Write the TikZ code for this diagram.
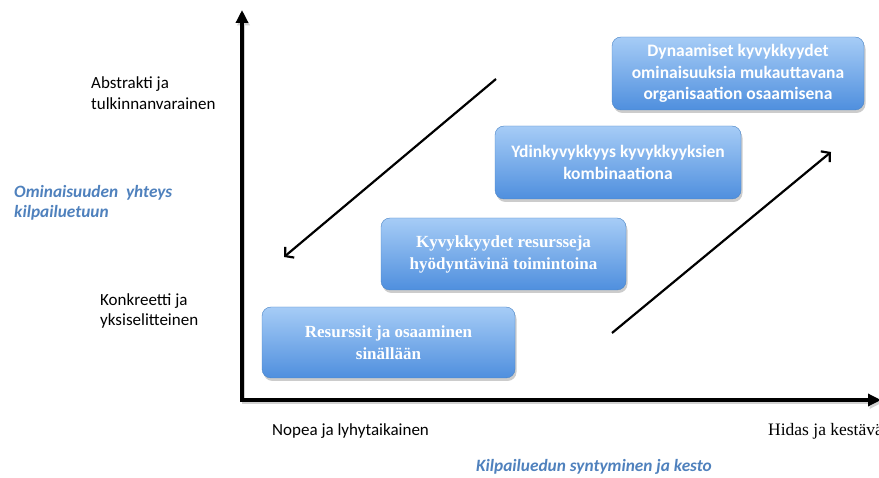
\documentclass[tikz,border=0pt]{standalone}
\usepackage{fontspec}
\setmainfont{Carlito}
\newfontfamily\timesfont{Liberation Serif}
\usetikzlibrary{arrows.meta,shadows}
\definecolor{labelblue}{HTML}{4F81BD}
\definecolor{boxtop}{HTML}{A6CCF6}
\definecolor{boxbottom}{HTML}{4F8FDE}
\definecolor{boxline}{HTML}{4A84C6}

\begin{document}
\begin{tikzpicture}[x=1pt, y=-1pt,
      capbox/.style={rectangle, rounded corners=9pt, draw=boxline, thin,
                     top color=boxtop, bottom color=boxbottom,
                     drop shadow={opacity=0.4, shadow xshift=1.5pt, shadow yshift=-3pt},
                     text=white, align=center, inner sep=2pt},
      serifbox/.style={capbox, font=\timesfont\bfseries\fontsize{17}{22}\selectfont},
      sansbox/.style={capbox, font=\bfseries\fontsize{17.5}{21.5}\selectfont},
      levellabel/.style={anchor=west, align=left, inner sep=0pt, font=\fontsize{17}{20.5}\selectfont},
      axislabel/.style={inner sep=0pt, text=labelblue, font=\bfseries\itshape\fontsize{17.3}{20}\selectfont},
      axis/.style={line width=3.5pt, line join=miter,
                   {Triangle[length=13pt, width=12pt]}-{Triangle[length=13pt, width=12pt]}},
      trend/.style={line width=2.2pt, -{Straight Barb[length=6pt, width=14pt]}}]
   \useasboundingbox (0,0) rectangle (879,478);

   % axes
   \coordinate (origin) at (242,400);
   \coordinate (ytop) at (242,10);
   \coordinate (xend) at (881,400);
   \begin{scope}[transform canvas={shift={(1.5pt,-2.5pt)}}]
      \draw[axis, black!18] (ytop) -- (origin) -- (xend);
   \end{scope}
   \draw[axis] (ytop) -- (origin) -- (xend);

   % axis labels
   \node[levellabel] (abstract) at (91,93) {Abstrakti ja\\tulkinnanvarainen};
   \node[levellabel] (concrete) at (100,311) {Konkreetti ja\\yksiselitteinen};
   \node[axislabel, anchor=west, align=left] (yname) at (14,203) {Ominaisuuden\ \ yhteys\\kilpailuetuun};
   \node[levellabel, anchor=west] (fast) at (272,431) {Nopea ja lyhytaikainen};
   \node[anchor=west, inner sep=0pt, font=\timesfont\fontsize{17.5}{20}\selectfont] (slow) at (768,431) {Hidas ja kestävä};
   \node[axislabel] (xname) at (594,467) {Kilpailuedun syntyminen ja kesto};

   % capability levels
   \node[serifbox, minimum width=253pt, minimum height=71pt] (resources) at (388.5,342.5)
      {Resurssit ja osaaminen\\sinällään};
   \node[serifbox, minimum width=245pt, minimum height=72pt] (capabilities) at (503.5,254)
      {Kyvykkyydet resursseja\\hyödyntävinä toimintoina};
   \node[sansbox, minimum width=246pt, minimum height=73pt] (core) at (618,162.5)
      {Ydinkyvykkyys kyvykkyyksien\\kombinaationa};
   \node[sansbox, minimum width=252pt, minimum height=73pt] (dynamic) at (738,73.5)
      {Dynaamiset kyvykkyydet\\ominaisuuksia mukauttavana\\organisaation osaamisena};

   % trends
   \coordinate (downstart) at (496,79);
   \coordinate (downend) at (284,257);
   \coordinate (upstart) at (612,333);
   \coordinate (upend) at (831,152);
   \draw[trend] (downstart) -- (downend);
   \draw[trend] (upstart) -- (upend);
\end{tikzpicture}
\end{document}
